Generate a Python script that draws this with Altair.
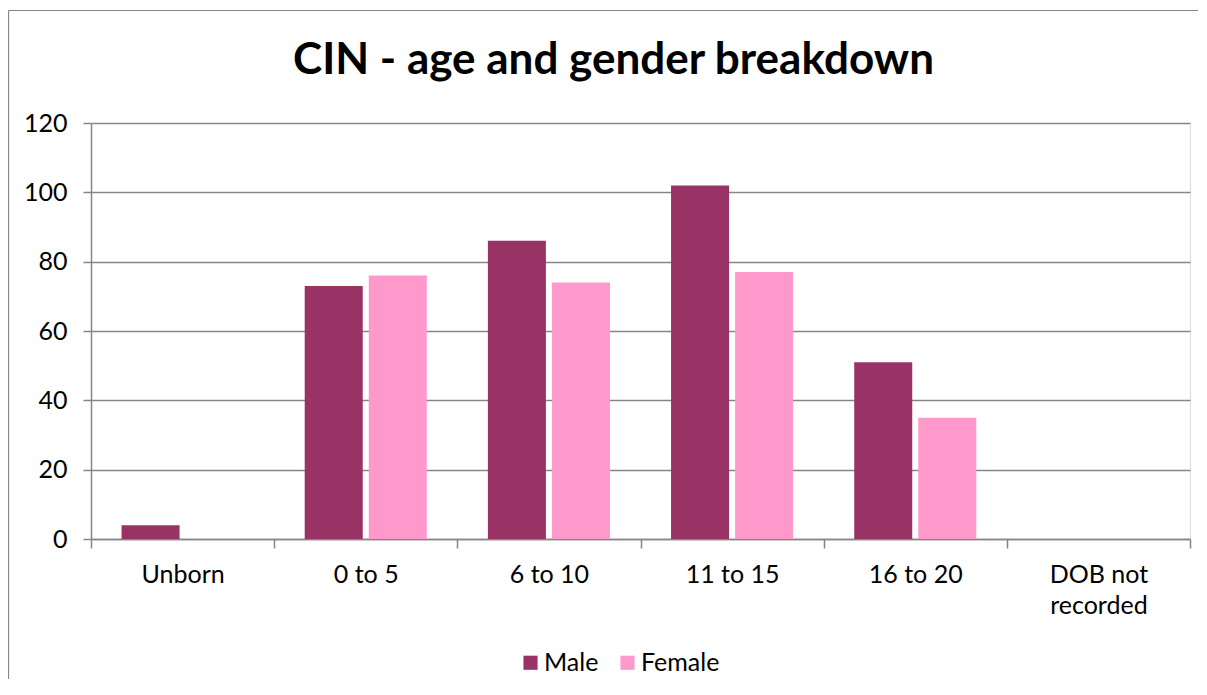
import altair as alt
import pandas as pd

categories = ["Unborn", "0 to 5", "6 to 10", "11 to 15", "16 to 20", "DOB not recorded"]
male = [4, 73, 86, 102, 51, 0]
female = [0, 76, 74, 77, 35, 0]
genders = ["Male", "Female"]
colors = ["#993366", "#FF99CC"]
y_ticks = [0, 20, 40, 60, 80, 100, 120]

rows = []
for c, m, f in zip(categories, male, female):
    rows.append({"category": c, "gender": "Male", "value": m})
    rows.append({"category": c, "gender": "Female", "value": f})
df = pd.DataFrame(rows)

FONT = "Lato"
GRID = "#868686"

bars = alt.Chart(df).mark_bar().encode(
    x=alt.X(
        "category:N",
        sort=categories,
        scale=alt.Scale(paddingInner=0, paddingOuter=0),
        axis=alt.Axis(
            title=None,
            labelAngle=0,
            tickBand="extent",
            tickSize=9,
            tickColor=GRID,
            tickWidth=1.5,
            domainColor=GRID,
            domainWidth=1.5,
            labelFont=FONT,
            labelFontSize=25,
            labelColor="#000000",
            labelPadding=14,
            labelLineHeight=31,
            labelExpr="datum.label == 'DOB not recorded' ? ['DOB not', 'recorded'] : datum.label",
        ),
    ),
    xOffset=alt.XOffset(
        "gender:N",
        sort=genders,
        scale=alt.Scale(paddingInner=0.094, paddingOuter=0.477),
    ),
    y=alt.Y(
        "value:Q",
        scale=alt.Scale(domain=[0, 120]),
        axis=alt.Axis(
            title=None,
            values=y_ticks,
            grid=True,
            gridColor=GRID,
            gridWidth=1.5,
            tickSize=8,
            tickColor=GRID,
            tickWidth=1.5,
            domainColor=GRID,
            domainWidth=1.5,
            labelFont=FONT,
            labelFontSize=25,
            labelColor="#000000",
            labelPadding=16,
        ),
    ),
    color=alt.Color(
        "gender:N",
        sort=genders,
        scale=alt.Scale(domain=genders, range=colors),
        legend=alt.Legend(
            title=None,
            orient="none",
            legendX=427,
            legendY=527,
            direction="horizontal",
            symbolType="square",
            symbolSize=200,
            symbolStrokeWidth=0,
            labelFont=FONT,
            labelFontSize=25,
            labelColor="#000000",
            columnPadding=16,
            labelOffset=1,
        ),
    ),
)

edge_df = pd.DataFrame({"a": [0]})
left_edge = alt.Chart(edge_df).mark_rule(color=GRID, strokeWidth=1.2).encode(
    x=alt.value(-82.5),
    y=alt.value(-112.5),
    y2=alt.value(3000),
)
top_edge = alt.Chart(edge_df).mark_rule(color=GRID, strokeWidth=1.2).encode(
    x=alt.value(-82.5),
    x2=alt.value(3000),
    y=alt.value(-112.5),
)

chart = alt.layer(left_edge, top_edge, bars).properties(
    width=1099,
    height=416,
    autosize=alt.AutoSizeParams(type="none"),
    padding={"left": 83, "top": 115, "right": 8, "bottom": 140},
    title=alt.Title(
        "CIN - age and gender breakdown",
        font=FONT,
        fontSize=44,
        fontWeight="bold",
        color="#000000",
        anchor="middle",
        frame="group",
        dx=-27,
        offset=-73,
    ),
).configure_view(strokeWidth=0).configure(background="white")

chart.save("out.html", embed_options={"renderer": "svg", "actions": False})
